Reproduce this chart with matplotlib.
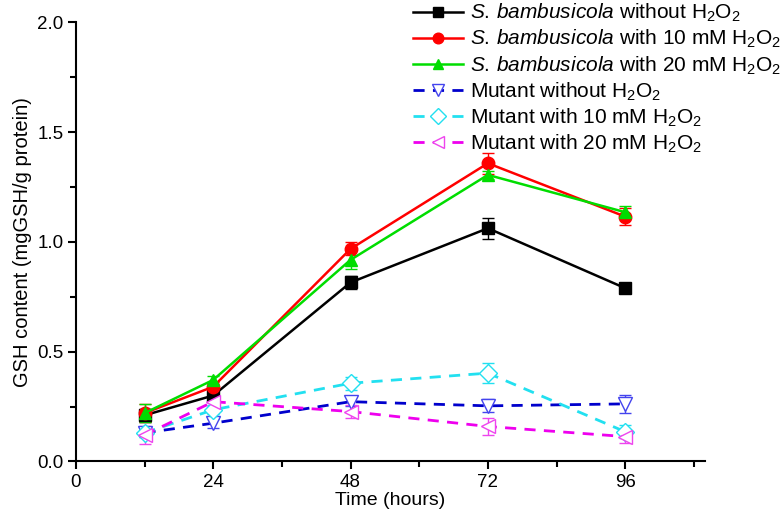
import numpy as np
import matplotlib
matplotlib.use('Agg')
import matplotlib.pyplot as plt

# Ajustes de fuente (parecida a Arial)
plt.rcParams['font.family'] = ['Liberation Sans', 'DejaVu Sans']
plt.rcParams['mathtext.fontset'] = 'custom'
plt.rcParams['mathtext.rm'] = 'Liberation Sans'
plt.rcParams['mathtext.it'] = 'Liberation Sans:italic'

# Datos
horas = [12, 24, 48, 72, 96]

sb_sin = [0.21, 0.30, 0.815, 1.062, 0.789]
sb_sin_err = [0.03, 0.02, 0.03, 0.047, 0.015]
sb_10 = [0.22, 0.34, 0.968, 1.358, 1.115]
sb_10_err = [0.04, 0.02, 0.03, 0.048, 0.04]
sb_20 = [0.22, 0.371, 0.918, 1.305, 1.135]
sb_20_err = [0.04, 0.02, 0.04, 0.02, 0.03]

mut_sin = [0.13, 0.174, 0.272, 0.253, 0.262]
mut_sin_err = [0.02, 0.02, 0.02, 0.03, 0.04]
mut_10 = [0.13, 0.235, 0.356, 0.402, 0.135]
mut_10_err = [0.02, 0.02, 0.03, 0.045, 0.03]
mut_20 = [0.12, 0.272, 0.227, 0.159, 0.113]
mut_20_err = [0.04, 0.02, 0.03, 0.04, 0.03]

etiquetas = [
    r'$\mathit{S.}\,\mathit{bambusicola}$ without H$_2$O$_2$',
    r'$\mathit{S.}\,\mathit{bambusicola}$ with 10 mM H$_2$O$_2$',
    r'$\mathit{S.}\,\mathit{bambusicola}$ with 20 mM H$_2$O$_2$',
    r'Mutant without H$_2$O$_2$',
    r'Mutant with 10 mM H$_2$O$_2$',
    r'Mutant with 20 mM H$_2$O$_2$',
]

fig = plt.figure(figsize=(7.82, 5.19), dpi=100)
ax = fig.add_axes([0.097, 0.111, 0.805, 0.846])

# Series de la cepa silvestre (lineas continuas, marcadores rellenos)
ax.errorbar(horas, sb_sin, yerr=sb_sin_err, color='black', marker='s', ms=8,
            lw=1.8, capsize=4, elinewidth=1, label=etiquetas[0])
ax.errorbar(horas, sb_10, yerr=sb_10_err, color='#ff0000', marker='o', ms=9,
            lw=1.8, capsize=4, elinewidth=1, label=etiquetas[1])
ax.errorbar(horas, sb_20, yerr=sb_20_err, color='#00dd00', marker='^', ms=9,
            lw=1.8, capsize=4, elinewidth=1, label=etiquetas[2])

# Series del mutante (lineas discontinuas, marcadores huecos)
ax.errorbar(horas, mut_sin, yerr=mut_sin_err, color='#0000cc', marker='v', ms=10,
            mfc='white', mec='#4444ee', mew=1, lw=2, ls=(0, (4, 3)),
            capsize=4, elinewidth=1, ecolor='#4444ee', label=etiquetas[3])
ax.errorbar(horas, mut_10, yerr=mut_10_err, color='#22e0f0', marker='D', ms=9,
            mfc='white', mec='#22e0f0', mew=1, lw=2, ls=(0, (4, 3)),
            capsize=4, elinewidth=1, label=etiquetas[4])
ax.errorbar(horas, mut_20, yerr=mut_20_err, color='#ee00ee', marker='<', ms=10,
            mfc='white', mec='#ee44ee', mew=1, lw=2, ls=(0, (4, 3)),
            capsize=4, elinewidth=1, ecolor='#ee44ee', label=etiquetas[5])

# Ejes
ax.set_xlim(0, 110)
ax.set_ylim(0, 2.0)
ax.set_xticks([0, 24, 48, 72, 96])
ax.set_xticks(np.arange(12, 110, 24), minor=True)
ax.set_yticks([0.0, 0.5, 1.0, 1.5, 2.0])
ax.set_yticks([0.25, 0.75, 1.25, 1.75], minor=True)
ax.yaxis.set_major_formatter(matplotlib.ticker.FormatStrFormatter('%.1f'))
ax.spines['top'].set_visible(False)
ax.spines['right'].set_visible(False)
ax.spines['left'].set_linewidth(1.5)
ax.spines['bottom'].set_linewidth(1.5)
ax.tick_params(which='major', direction='out', length=6, width=1.5,
               labelsize=13.5, pad=3)
ax.tick_params(which='minor', direction='out', length=4, width=1.5)

ax.set_xlabel('Time (hours)', fontsize=14, labelpad=1)
ax.set_ylabel('GSH content (mgGSH/g protein)', fontsize=14.5, labelpad=4)

# Leyenda (solo la linea con su marcador, sin barras de error)
handles, labels = ax.get_legend_handles_labels()
handles = [h[0] for h in handles]
leg = fig.legend(handles, labels, loc='upper left', bbox_to_anchor=(0.51, 1.024),
                 frameon=False, fontsize=15, handlelength=2.4, markerscale=0.85,
                 handletextpad=0.3, labelspacing=0.18, borderpad=0.2)

fig.savefig('out.png', dpi=100)
